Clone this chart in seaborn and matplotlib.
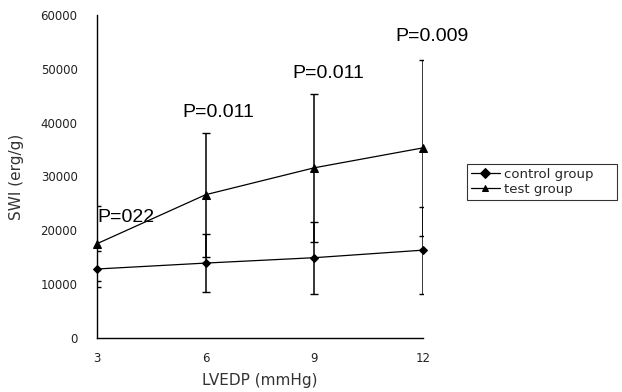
import numpy as np
import pandas as pd
import seaborn as sns
import matplotlib
matplotlib.use("Agg")
import matplotlib.pyplot as plt

# ---- data ----
lvedp = [3, 6, 9, 12]
control_mean = [12800, 13900, 14900, 16300]
control_sd = [3400, 5400, 6700, 8100]
test_mean = [17500, 26600, 31600, 35300]
test_sd = [7000, 11500, 13700, 16300]
groups = ["control group", "test group"]
p_labels = ["P=022", "P=0.011", "P=0.011", "P=0.009"]
p_x = [3.0, 6.34, 9.38, 12.24]
p_y = [22300, 41800, 49200, 55900]

df = pd.DataFrame({
    "LVEDP": lvedp * 2,
    "SWI": control_mean + test_mean,
    "group": [groups[0]] * 4 + [groups[1]] * 4,
})

sns.set_style("white")
plt.rcParams["font.family"] = ["DejaVu Sans"]

fig = plt.figure(figsize=(6.22, 3.92), dpi=100)
ax = fig.add_axes([0.156, 0.138, 0.524, 0.824])

# error bars
ax.errorbar(lvedp, test_mean, yerr=test_sd, fmt="none", ecolor="black",
            elinewidth=1.1, capsize=3, capthick=1.0, zorder=2)
ax.errorbar(lvedp, control_mean, yerr=control_sd, fmt="none", ecolor="black",
            elinewidth=1.1, capsize=3, capthick=1.0, zorder=2)

sns.lineplot(data=df, x="LVEDP", y="SWI", hue="group", style="group",
             palette={groups[0]: "black", groups[1]: "black"},
             markers={groups[0]: "D", groups[1]: "^"},
             dashes=False, markersize=5.5, linewidth=0.9,
             markeredgecolor="black", ax=ax, zorder=3, clip_on=False)
# slightly smaller diamonds for the control group
for line in ax.lines:
    if line.get_marker() == "D":
        line.set_markersize(4.5)

ax.set_xlim(3, 12)
ax.set_ylim(0, 60000)
ax.set_xticks(lvedp)
ax.set_yticks(np.arange(0, 60001, 10000))
ax.set_xticklabels([str(v) for v in lvedp])
ax.set_yticklabels([str(v) for v in range(0, 60001, 10000)])

for s in ["top", "right"]:
    ax.spines[s].set_visible(False)
for s in ["left", "bottom"]:
    ax.spines[s].set_color("black")
    ax.spines[s].set_linewidth(1.0)

ax.tick_params(axis="y", direction="out", length=3, width=0.8, colors="#222222",
               labelsize=8.5, pad=11)
ax.tick_params(axis="x", direction="in", length=3, width=0.8, colors="#222222",
               labelsize=8.5, pad=10)

ax.set_xlabel("LVEDP (mmHg)", fontsize=11, color="#333333", labelpad=6)
ax.set_ylabel("SWI (erg/g)", fontsize=11, color="#333333", labelpad=12)

for i, (lab, x, y) in enumerate(zip(p_labels, p_x, p_y)):
    ha = "left" if i == 0 else "center"
    ax.text(x, y, lab, ha=ha, va="center", fontsize=14,
            family=["Liberation Sans", "DejaVu Sans"], color="black", clip_on=False)

handles, labels = ax.get_legend_handles_labels()
leg = ax.legend(handles, labels, loc="upper left",
                bbox_to_anchor=(1.135, 0.539, 0.46, 0.0), mode="expand",
                borderaxespad=0, frameon=True, fancybox=False, fontsize=9.5,
                handlelength=2.2, handletextpad=0.3, labelspacing=0.15,
                borderpad=0.3, title=None)
leg.get_frame().set_edgecolor("black")
leg.get_frame().set_linewidth(0.8)
for h in leg.legend_handles:
    h.set_markersize(5)

fig.savefig("out.png", dpi=100)
